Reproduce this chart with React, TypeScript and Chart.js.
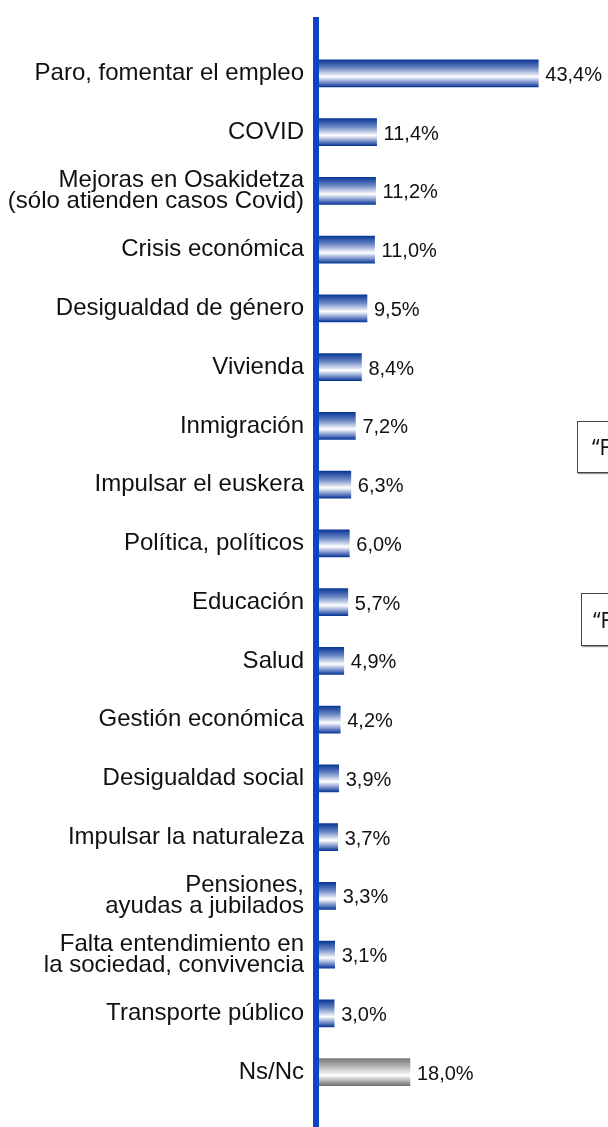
import React, { useEffect, useRef } from "react";
import { Chart, registerables } from "chart.js";

Chart.register(...registerables);

const categories: (string | string[])[] = [
  "Paro, fomentar el empleo",
  "COVID",
  ["Mejoras en Osakidetza", "(sólo atienden casos Covid)"],
  "Crisis económica",
  "Desigualdad de género",
  "Vivienda",
  "Inmigración",
  "Impulsar el euskera",
  "Política, políticos",
  "Educación",
  "Salud",
  "Gestión económica",
  "Desigualdad social",
  "Impulsar la naturaleza",
  ["Pensiones,", "ayudas a jubilados"],
  ["Falta entendimiento en", "la sociedad, convivencia"],
  "Transporte público",
  "Ns/Nc",
];

const values: number[] = [43.4, 11.4, 11.2, 11.0, 9.5, 8.4, 7.2, 6.3, 6.0, 5.7, 4.9, 4.2, 3.9, 3.7, 3.3, 3.1, 3.0, 18.0];

const greyIndex: number[] = [17];

const noteLabels: string[] = ["“F", "“F"];

const FONT = "'Liberation Sans', Arial, sans-serif";
const BAR_THICKNESS = 27;

function barFill(c: any) {
  const chart = c.chart;
  const yScale = chart.scales && chart.scales.y;
  const grey = greyIndex.includes(c.dataIndex);
  if (!yScale || !chart.chartArea) return grey ? "#9a9a9a" : "#0a3796";
  const cy = yScale.getPixelForValue(c.dataIndex);
  const top = cy - BAR_THICKNESS / 2;
  const bot = cy + BAR_THICKNESS / 2;
  const g = chart.ctx.createLinearGradient(0, top, 0, bot);
  if (grey) {
    g.addColorStop(0, "#7a7a7a");
    g.addColorStop(0.3, "#b6b6b6");
    g.addColorStop(0.62, "#ffffff");
    g.addColorStop(0.85, "#a8a8a8");
    g.addColorStop(1, "#727272");
  } else {
    g.addColorStop(0, "#0a3796");
    g.addColorStop(0.3, "#6a86c4");
    g.addColorStop(0.62, "#ffffff");
    g.addColorStop(0.85, "#6e88c6");
    g.addColorStop(1, "#0a3796");
  }
  return g;
}

const overlayPlugin = {
  id: "overlay",
  afterDatasetsDraw(chart: any) {
    const ctx = chart.ctx;
    ctx.save();
    ctx.fillStyle = "#0c45c4";
    ctx.fillRect(chart.chartArea.left - 6, 17, 6, chart.height - 17);
    ctx.font = `20px ${FONT}`;
    ctx.fillStyle = "#111111";
    ctx.textAlign = "left";
    ctx.textBaseline = "middle";
    const meta = chart.getDatasetMeta(0);
    meta.data.forEach((el: any, i: number) => {
      ctx.fillText(values[i].toFixed(1).replace(".", ",") + "%", el.x + 7, el.y + 2);
    });
    ctx.restore();
  },
};

export default function App() {
  const ref = useRef<HTMLCanvasElement | null>(null);
  useEffect(() => {
    if (!ref.current) return;
    const chart = new Chart(ref.current, {
      type: "bar",
      data: {
        labels: categories,
        datasets: [
          {
            data: values,
            backgroundColor: barFill,
            barThickness: BAR_THICKNESS,
            borderWidth: 0,
          },
        ],
      },
      options: {
        indexAxis: "y",
        animation: false,
        responsive: false,
        maintainAspectRatio: false,
        layout: { padding: { left: 0, right: 0, top: 44, bottom: 17 } },
        plugins: { legend: { display: false }, tooltip: { enabled: false } },
        scales: {
          x: { display: false, min: 0, max: 57.2 },
          y: {
            afterFit(scale: any) {
              scale.width = 319;
            },
            grid: { display: false, drawTicks: false },
            border: { display: false },
            ticks: {
              padding: 15,
              color: "#111111",
              font: { family: FONT, size: 24, lineHeight: "21px" },
              autoSkip: false,
            },
          },
        },
      },
      plugins: [overlayPlugin],
    });
    return () => chart.destroy();
  }, []);

  const boxStyle = (left: number, top: number, height: number, pad: number): React.CSSProperties => ({
    position: "absolute",
    left,
    top,
    width: 200,
    height,
    border: "1px solid #444",
    boxShadow: "1px 1px 1px #999",
    background: "#fff",
    boxSizing: "border-box",
    fontFamily: "'Noto Sans', 'Open Sans', sans-serif",
    fontSize: 21,
    color: "#111",
    display: "flex",
    alignItems: "center",
    paddingLeft: pad,
    whiteSpace: "nowrap",
  });

  return (
    <div style={{ position: "absolute", left: 0, top: 0, width: 608, height: 1127, overflow: "hidden", background: "#fff" }}>
      <canvas ref={ref} width={608} height={1127} style={{ position: "absolute", left: 0, top: 0 }} />
      <div style={boxStyle(577, 421, 52, 14)}>{noteLabels[0]}</div>
      <div style={boxStyle(581, 593, 53, 11)}>{noteLabels[1]}</div>
    </div>
  );
}
